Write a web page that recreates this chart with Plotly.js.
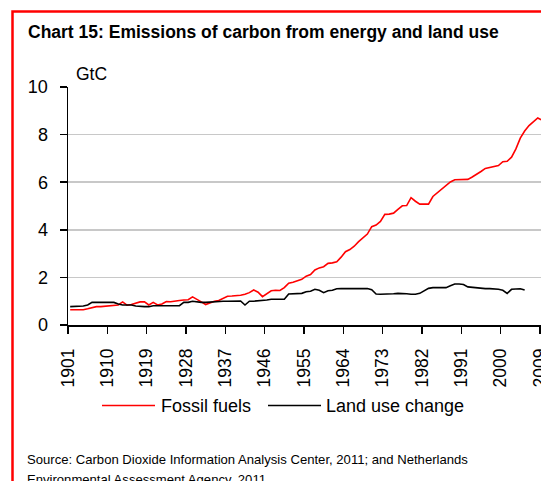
<!DOCTYPE html>
<html>
<head>
<meta charset="utf-8">
<script src="https://cdn.plot.ly/plotly-3.0.1.min.js"></script>
<style>
  html, body { margin: 0; padding: 0; background: #ffffff; }
  #chart { width: 541px; height: 481px; }
</style>
</head>
<body>
<div id="chart"></div>
<script>
// ---- Data (GtC) ----
const years = [];
for (let y = 1901; y <= 2009; y++) years.push(y);

const fossilFuels = [
  0.64, 0.64, 0.64, 0.64, 0.68, 0.73, 0.77, 0.77, 0.78, 0.79,   // 1901-1910
  0.82, 0.84, 0.97, 0.83, 0.86, 0.93, 0.97, 0.97, 0.84, 0.95,   // 1911-1920
  0.84, 0.88, 0.99, 0.98, 0.99, 1.03, 1.05, 1.06, 1.18, 1.06,   // 1921-1930
  0.97, 0.86, 0.94, 1.00, 1.03, 1.12, 1.21, 1.22, 1.22, 1.25,   // 1931-1940
  1.29, 1.36, 1.47, 1.38, 1.19, 1.30, 1.44, 1.46, 1.45, 1.57,   // 1941-1950
  1.76, 1.80, 1.85, 1.92, 2.05, 2.12, 2.31, 2.40, 2.45, 2.59,   // 1951-1960
  2.61, 2.66, 2.85, 3.08, 3.17, 3.31, 3.50, 3.67, 3.82, 4.13,   // 1961-1970
  4.20, 4.35, 4.65, 4.66, 4.70, 4.86, 5.01, 5.02, 5.35, 5.20,   // 1971-1980
  5.08, 5.08, 5.08, 5.40, 5.55, 5.70, 5.82, 6.01, 6.10, 6.11,   // 1981-1990
  6.11, 6.12, 6.22, 6.32, 6.45, 6.58, 6.62, 6.64, 6.70, 6.86,   // 1991-2000
  6.88, 7.05, 7.40, 7.85, 8.15, 8.38, 8.55, 8.70, 8.60          // 2001-2009
];

const landUseChange = [
  0.77, 0.77, 0.79, 0.80, 0.84, 0.95, 0.95, 0.95, 0.95, 0.95,   // 1901-1910
  0.95, 0.88, 0.84, 0.84, 0.84, 0.80, 0.77, 0.77, 0.77, 0.81,   // 1911-1920
  0.81, 0.81, 0.81, 0.81, 0.81, 0.81, 0.95, 0.95, 1.00, 0.97,   // 1921-1930
  0.95, 0.95, 0.97, 0.98, 0.98, 1.00, 1.00, 1.01, 1.01, 1.01,   // 1931-1940
  0.84, 1.00, 1.00, 1.01, 1.01, 1.05, 1.08, 1.08, 1.08, 1.08,   // 1941-1950
  1.30, 1.30, 1.30, 1.33, 1.40, 1.42, 1.50, 1.46, 1.36, 1.44,   // 1951-1960
  1.46, 1.52, 1.53, 1.53, 1.53, 1.53, 1.53, 1.53, 1.53, 1.48,   // 1961-1970
  1.30, 1.29, 1.29, 1.29, 1.31, 1.33, 1.33, 1.31, 1.29, 1.29,   // 1971-1980
  1.33, 1.45, 1.54, 1.57, 1.57, 1.57, 1.57, 1.65, 1.72, 1.72,   // 1981-1990
  1.70, 1.60, 1.58, 1.58, 1.53, 1.53, 1.53, 1.53, 1.50, 1.46,   // 1991-2000
  1.33, 1.50, 1.52, 1.52, 1.47                                  // 2001-2005
];
const landYears = years.slice(0, landUseChange.length);

const seriesNames = ["Fossil fuels", "Land use change"];
const tickLabels = ["1901","1910","1919","1928","1937","1946","1955","1964","1973","1982","1991","2000","2009"];
const tickPositions = tickLabels.map(t => Number(t) - 0.5);

const titleText = "Chart 15: Emissions of carbon from energy and land use";
const unitText = "GtC";
const sourceLine1 = "Source: Carbon Dioxide Information Analysis Center, 2011; and Netherlands";
const sourceLine2 = "Environmental Assessment Agency, 2011";

// ---- Layout helpers (pixel -> paper) ----
const W = 541, H = 481;
const L = 68, R = 0, T = 87, B = 156;
const pw = W - L - R, ph = H - T - B;
const px = x => (x - L) / pw;
const py = y => (H - B - y) / ph;

const FONT = "Liberation Sans, Arial, Helvetica, sans-serif";
const RED = "#ff0000";

const traces = [
  { x: years, y: fossilFuels, name: seriesNames[0], type: "scatter", mode: "lines",
    line: { color: RED, width: 1.6 }, showlegend: false },
  { x: landYears, y: landUseChange, name: seriesNames[1], type: "scatter", mode: "lines",
    line: { color: "#000000", width: 1.6 }, showlegend: false }
];

const layout = {
  width: W, height: H,
  margin: { l: L, r: R, t: T, b: B, pad: 0 },
  paper_bgcolor: "#ffffff", plot_bgcolor: "#ffffff",
  font: { family: FONT, color: "#000000", size: 18 },
  showlegend: false,
  xaxis: {
    range: [1900.5, 1900.5 + pw / 4.37],
    tickmode: "array", tickvals: tickPositions, ticktext: tickLabels,
    tickangle: -90, ticks: "outside", ticklen: 7, tickwidth: 1.5, tickcolor: "#000",
    showline: true, linecolor: "#000", linewidth: 1.5,
    showgrid: false, zeroline: false,
    ticklabeloverflow: "allow",
    ticklabelstandoff: 8,
    tickfont: { family: FONT, size: 17.5, color: "#000" }
  },
  yaxis: {
    range: [0, 10], tickmode: "linear", tick0: 0, dtick: 2,
    ticks: "outside", ticklen: 7, tickwidth: 1.5, tickcolor: "#000",
    showline: true, linecolor: "#000", linewidth: 1.5,
    showgrid: true, gridcolor: "#c8c8c8", gridwidth: 1.5, zeroline: false,
    tickfont: { family: FONT, size: 18, color: "#000" },
    ticklabelstandoff: 8
  },
  shapes: [
    // red frame around the exhibit
    { type: "rect", xref: "paper", yref: "paper",
      x0: px(12.5), x1: px(600), y0: py(11.5), y1: py(560),
      line: { color: RED, width: 2.5 }, fillcolor: "rgba(0,0,0,0)", layer: "above" },
    // legend lines
    { type: "line", xref: "paper", yref: "paper",
      x0: px(102), x1: px(155), y0: py(405.5), y1: py(405.5),
      line: { color: RED, width: 1.6 } },
    { type: "line", xref: "paper", yref: "paper",
      x0: px(268), x1: px(321), y0: py(405.5), y1: py(405.5),
      line: { color: "#000000", width: 1.6 } }
  ],
  annotations: [
    { text: "<b>" + titleText + "</b>", xref: "paper", yref: "paper",
      x: px(26), y: py(32), xanchor: "left", yanchor: "middle", showarrow: false,
      font: { family: FONT, size: 17.5, color: "#000" } },
    { text: unitText, xref: "paper", yref: "paper",
      x: px(74), y: py(73.5), xanchor: "left", yanchor: "middle", showarrow: false,
      font: { family: FONT, size: 17.5, color: "#000" } },
    { text: seriesNames[0], xref: "paper", yref: "paper",
      x: px(159), y: py(405.5), xanchor: "left", yanchor: "middle", showarrow: false,
      font: { family: FONT, size: 18, color: "#000" } },
    { text: seriesNames[1], xref: "paper", yref: "paper",
      x: px(324), y: py(405.5), xanchor: "left", yanchor: "middle", showarrow: false,
      font: { family: FONT, size: 18, color: "#000" } },
    { text: sourceLine1, xref: "paper", yref: "paper",
      x: px(25), y: py(459.5), xanchor: "left", yanchor: "middle", showarrow: false,
      font: { family: FONT, size: 13.1, color: "#000" } },
    { text: sourceLine2, xref: "paper", yref: "paper",
      x: px(25), y: py(479), xanchor: "left", yanchor: "middle", showarrow: false,
      font: { family: FONT, size: 13.1, color: "#000" } }
  ]
};

Plotly.newPlot("chart", traces, layout, { staticPlot: true, displayModeBar: false });
</script>
</body>
</html>
